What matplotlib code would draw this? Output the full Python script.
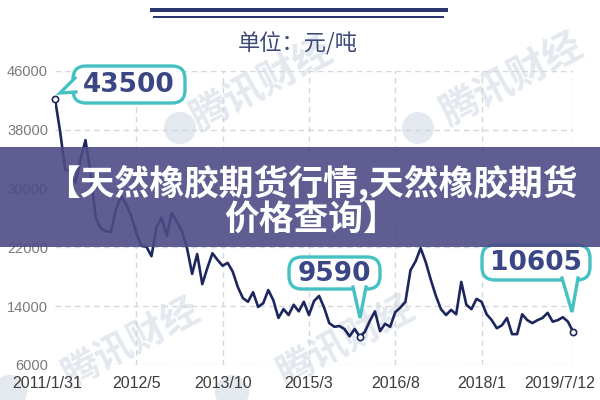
"""
Natural rubber futures price, monthly, 2011/1 - 2019/7 (unit: yuan / ton).

    python plot.py

Writes out.png (600x400). Overlays (banner, callout bubbles, watermarks)
are placed in figure pixels measured from the top-left corner.
"""

from __future__ import annotations

import matplotlib

matplotlib.use("Agg")
import matplotlib.pyplot as plt
import matplotlib.transforms as mtransforms
from matplotlib.lines import Line2D
from matplotlib.patches import Circle, FancyBboxPatch, Polygon, Rectangle

OUT_PATH = "out.png"
W, H = 600, 400

# Month index counted from 2011/1 (0) to 2019/7 (102).
MONTHS = list(range(103))
PRICE = [
    42200, 37800, 32600, 32400, 30800, 33900, 36600, 32100, 26100, 24600,
    24200, 24100, 27100, 29000, 27900, 26300, 24000, 22200, 22100, 20800,
    24800, 26000, 23600, 26700, 25500, 24200, 21900, 18400, 21100, 17000,
    19200, 21200, 20300, 19500, 19900, 18700, 16600, 15100, 14600, 15900,
    13900, 14400, 16200, 14800, 12400, 13600, 12800, 14200, 13300, 14600,
    12800, 14700, 15400, 13800, 11700, 11200, 11300, 10900, 9900, 10900,
    9850, 10500, 12000, 13300, 10600, 11600, 11200, 13200, 13800, 14600,
    18900, 20100, 21900, 20000, 17600, 15400, 13600, 12800, 13500, 12900,
    17300, 14200, 13600, 15000, 14600, 12900, 12100, 11000, 11400, 12400,
    10200, 10200, 12900, 12100, 11700, 12100, 12400, 13100, 11900, 12100,
    12500, 11900, 10550,
]

TICK_MONTHS = [0, 16, 33, 50, 67, 84, 102]
TICK_LABELS = ["2011/1/31", "2012/5", "2013/10", "2015/3", "2016/8", "2018/1", "2019/7/12"]
Y_TICKS = [6000, 14000, 22000, 30000, 38000, 46000]

# Marked points: month index and the value printed in its bubble.
CALLOUT_MONTHS = [0, 60, 102]
CALLOUT_TEXTS = ["43500", "9590", "10605"]

UNIT_TEXT = "单位：元/吨"
BANNER_LINES = ["【天然橡胶期货行情,天然橡胶期货", "价格查询】"]
WATERMARK = "腾讯财经"

NAVY = "#1d275e"
TEAL = "#45c1c4"
BUBBLE_TEXT = "#3b4685"
GRID = "#d3d7dd"
WM_COLOR = "#e4e9ef"

# Bubble layout in pixels: box (x0, y0, x1, y1), tail (base a, tip, base b).
BUBBLES = [
    ((73, 66, 185, 103), [(75, 78), (60, 93), (76, 92)]),
    ((289, 257, 380, 289), [(353, 287), (360, 318), (366, 287)]),
    ((482, 245, 590, 280), [(562, 278), (572, 312), (578, 278)]),
]


def px_transform():
    # figure pixels, origin top-left
    return mtransforms.Affine2D().scale(1, -1).translate(0, H)


def fx(x, y):
    return x / W, 1 - y / H


def draw_bubble(fig, box, tail, text):
    tr = px_transform()
    x0, y0, x1, y1 = box
    rect = FancyBboxPatch(
        (x0, y0), x1 - x0, y1 - y0,
        boxstyle="round,pad=0,rounding_size=13",
        facecolor="white", edgecolor=TEAL, linewidth=2.4,
        transform=tr, zorder=4,
    )
    fig.add_artist(rect)
    a, tip, b = tail
    # white wedge covering the box border at the tail base
    cx, cy = (x0 + x1) / 2, (y0 + y1) / 2
    inner = [(a[0] + (cx - a[0]) * 0.06, a[1] + (cy - a[1]) * 0.25),
             (b[0] + (cx - b[0]) * 0.06, b[1] + (cy - b[1]) * 0.25)]
    fig.add_artist(Polygon([inner[0], a, tip, b, inner[1]], closed=True,
                           facecolor="white", edgecolor="none",
                           transform=tr, zorder=4.1))
    fig.add_artist(Line2D([a[0], tip[0], b[0]], [a[1], tip[1], b[1]],
                          color=TEAL, linewidth=2.4, solid_joinstyle="miter",
                          transform=tr, zorder=4.2))
    tx, ty = fx(cx, cy + 1)
    fig.text(tx, ty, text, ha="center", va="center", fontsize=19,
             fontweight="bold", color=BUBBLE_TEXT, family="DejaVu Sans",
             zorder=4.3)


def draw_watermarks(fig):
    tr = px_transform()
    for (x, y, size) in [(262, 85, 28), (512, 80, 28), (130, 342, 27), (345, 340, 27)]:
        tx, ty = fx(x, y)
        fig.text(tx, ty, WATERMARK, ha="center", va="center", rotation=28,
                 fontsize=size, fontweight="bold", color=WM_COLOR,
                 family="Noto Sans CJK SC", zorder=-1)
    for (x, y, r) in [(180, 128, 16), (418, 128, 16), (232, 392, 17), (10, 392, 17)]:
        fig.add_artist(Circle((x, y), r, facecolor=WM_COLOR, edgecolor="none",
                              transform=tr, zorder=-1))


def main() -> None:
    plt.rcParams.update(
        {
            "font.family": ["Liberation Sans", "DejaVu Sans"],
            "axes.unicode_minus": False,
        }
    )

    fig = plt.figure(figsize=(W / 100, H / 100), dpi=100)
    ax = fig.add_axes([55 / W, 35 / H, 518 / W, 294 / H])
    ax.patch.set_visible(False)

    draw_watermarks(fig)

    ax.set_xlim(0, 102)
    ax.set_ylim(6000, 46000)
    for s in ax.spines.values():
        s.set_visible(False)

    ax.set_yticks(Y_TICKS)
    ax.set_yticklabels([str(v) for v in Y_TICKS])
    ax.yaxis.grid(True, color=GRID, linestyle=(0, (4, 3)), linewidth=1.0)
    for m in TICK_MONTHS[1:]:
        ax.axvline(m, color=GRID, linestyle=(0, (4, 3)), linewidth=1.0, zorder=0.5)
    ax.set_axisbelow(True)
    ax.tick_params(axis="y", length=0, pad=5, labelsize=10.5, labelcolor="#7a7a7a")

    ax.set_xticks(TICK_MONTHS)
    ax.set_xticklabels(TICK_LABELS)
    ax.tick_params(axis="x", length=0, pad=8, labelsize=11.5, labelcolor="#3c3c3c")
    labels = ax.get_xticklabels()
    for lab, dx in [(labels[0], -8), (labels[-1], -13)]:
        lab.set_transform(lab.get_transform()
                          + mtransforms.ScaledTranslation(dx / 100, 0, fig.dpi_scale_trans))

    ax.plot(MONTHS, PRICE, color=NAVY, linewidth=1.9, solid_joinstyle="round", zorder=2)
    ax.plot(CALLOUT_MONTHS, [PRICE[m] for m in CALLOUT_MONTHS], linestyle="none",
            marker="o", markersize=4.5, markerfacecolor="white",
            markeredgecolor=NAVY, markeredgewidth=1.2, zorder=3, clip_on=False)

    tr = px_transform()
    # top double rule and unit caption
    fig.add_artist(Rectangle((150, 8), 298, 4, facecolor="#2b3770", edgecolor="none",
                             transform=tr, zorder=3))
    fig.add_artist(Rectangle((153, 15.5), 291, 2.5, facecolor="#2b3770", edgecolor="none",
                             transform=tr, zorder=3))
    ux, uy = fx(298, 44)
    fig.text(ux, uy, UNIT_TEXT, ha="center", va="center", fontsize=16,
             color="#3d4978", family=["Noto Sans CJK SC", "DejaVu Sans"])

    for (box, tail), text in zip(BUBBLES, CALLOUT_TEXTS):
        draw_bubble(fig, box, tail, text)

    # translucent headline banner
    fig.add_artist(Rectangle((0, 147), W, 100, facecolor="#4e4b85", alpha=0.9,
                             edgecolor="none", transform=tr, zorder=5))
    for line, y in zip(BANNER_LINES, [183, 220]):
        bx, by = fx(311, y)
        fig.text(bx, by, line, ha="center", va="center", fontsize=25,
                 fontweight="bold", color="white",
                 family=["Noto Sans CJK SC", "DejaVu Sans"], zorder=6)

    fig.savefig(OUT_PATH, dpi=100)
    plt.close(fig)


if __name__ == "__main__":
    main()
